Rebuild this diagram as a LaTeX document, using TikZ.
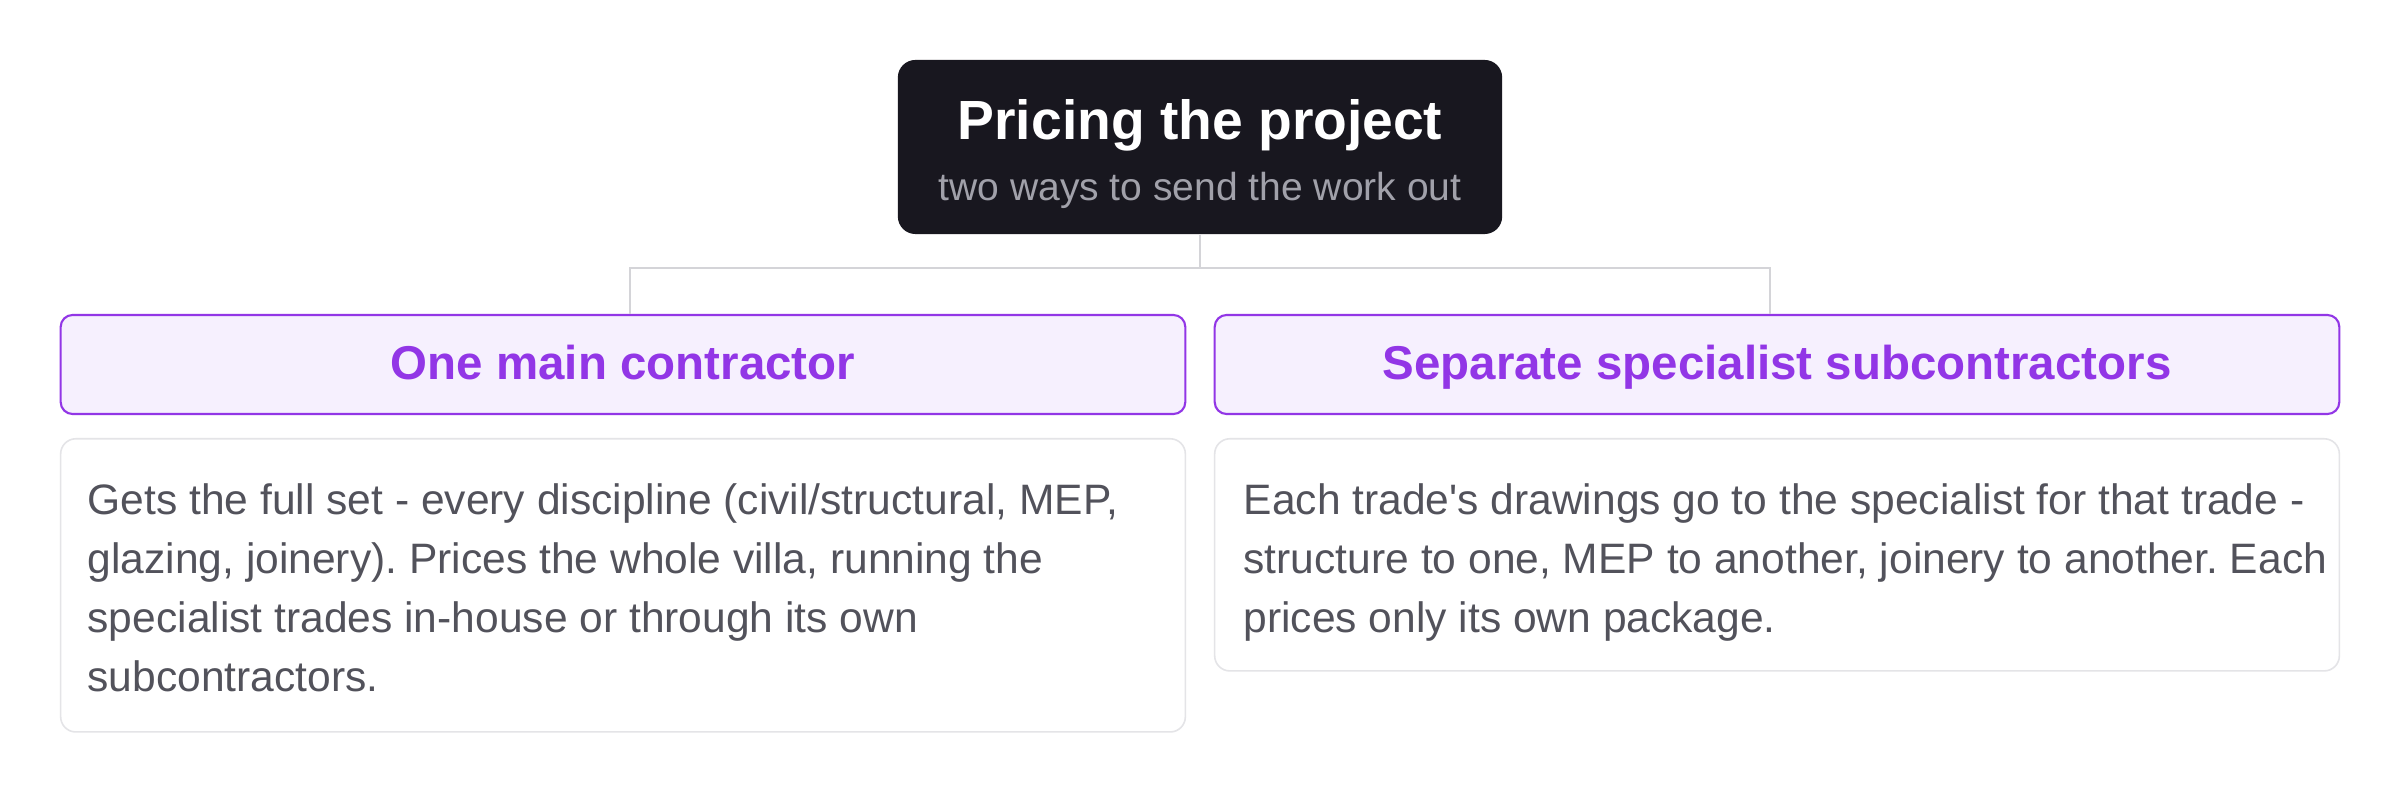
\documentclass[tikz,border=0pt]{standalone}
\usepackage{fontspec}
\setmainfont{Liberation Sans}
\frenchspacing

\definecolor{tituloFondo}{HTML}{18171F}
\definecolor{tituloSub}{HTML}{A1A1AA}
\definecolor{enlace}{HTML}{D4D4D8}
\definecolor{cabFondo}{HTML}{F6F0FE}
\definecolor{cabBorde}{HTML}{9236E6}
\definecolor{cuerpoBorde}{HTML}{E4E4E7}
\definecolor{cuerpoTexto}{HTML}{52525B}

\tikzset{
  titlebox/.style={fill=tituloFondo, rounded corners=5pt,
    minimum width=6.04cm, minimum height=1.74cm},
  titletext/.style={text=white, inner sep=0pt,
    font=\fontsize{15.7}{18}\selectfont\bfseries},
  subtext/.style={text=tituloSub, inner sep=0pt,
    font=\fontsize{11.1}{13}\selectfont},
  headbox/.style={draw=cabBorde, fill=cabFondo, line width=0.6pt,
    rounded corners=3.4pt, minimum width=11.24cm, minimum height=0.99cm,
    text height=0.85em, text depth=0pt,
    text=cabBorde, font=\fontsize{13.5}{16}\selectfont\bfseries},
  bodybox/.style={draw=cuerpoBorde, fill=white, line width=0.45pt,
    rounded corners=4.3pt, minimum width=11.24cm, anchor=north},
  bodytext/.style={text=cuerpoTexto, inner sep=0pt, align=left,
    anchor=north west, font=\fontsize{12.1}{16.8}\selectfont},
  link/.style={draw=enlace, line width=0.6pt}
}

\begin{document}
\begin{tikzpicture}[x=0.01cm,y=-0.01cm]
        % Paso 1: Fija el marco de la imagen
        \useasboundingbox[fill=white] (0,0) rectangle (2400,792);

        % Paso 2: Caja del titulo y sus dos textos
        \node[titlebox] (title) at (1200,147) {};
        \node[titletext, anchor=base] (titlemain) at (1200,140) {Pricing the project};
        \node[subtext, anchor=base] (titlesub) at (1200,201) {two ways to send the work out};

        % Paso 3: Cabeceras de las dos formas
        \node[headbox] (main) at (623,364.5) {One main contractor};
        \node[headbox] (spec) at (1777,364.5) {Separate specialist subcontractors};

        % Paso 4: Conector del titulo a las cabeceras
        \coordinate (split) at (1200,268);
        \coordinate (mainjoint) at (630,268);
        \coordinate (specjoint) at (1770,268);
        \draw[link] (title.south) -- (split);
        \draw[link] (mainjoint |- main.north) -- (mainjoint) -- (specjoint)
            -- (specjoint |- spec.north);

        % Paso 5: Cajas de texto debajo de cada cabecera
        \node[bodybox, minimum height=2.93cm] (mainbox) at (623,438) {};
        \node[bodybox, minimum height=2.32cm] (specbox) at (1777,438) {};

        % Paso 6: Textos de cada caja
        \node[bodytext] (maintext) at (87,483) {Gets the full set - every discipline (civil/structural, MEP,\\
            glazing, joinery). Prices the whole villa, running the\\
            specialist trades in-house or through its own\\
            subcontractors.};
        \node[bodytext] (spectext) at (1243,483) {Each trade\textquotesingle s drawings go to the specialist for that trade -\\
            structure to one, MEP to another, joinery to another. Each\\
            prices only its own package.};
    \end{tikzpicture}
\end{document}
